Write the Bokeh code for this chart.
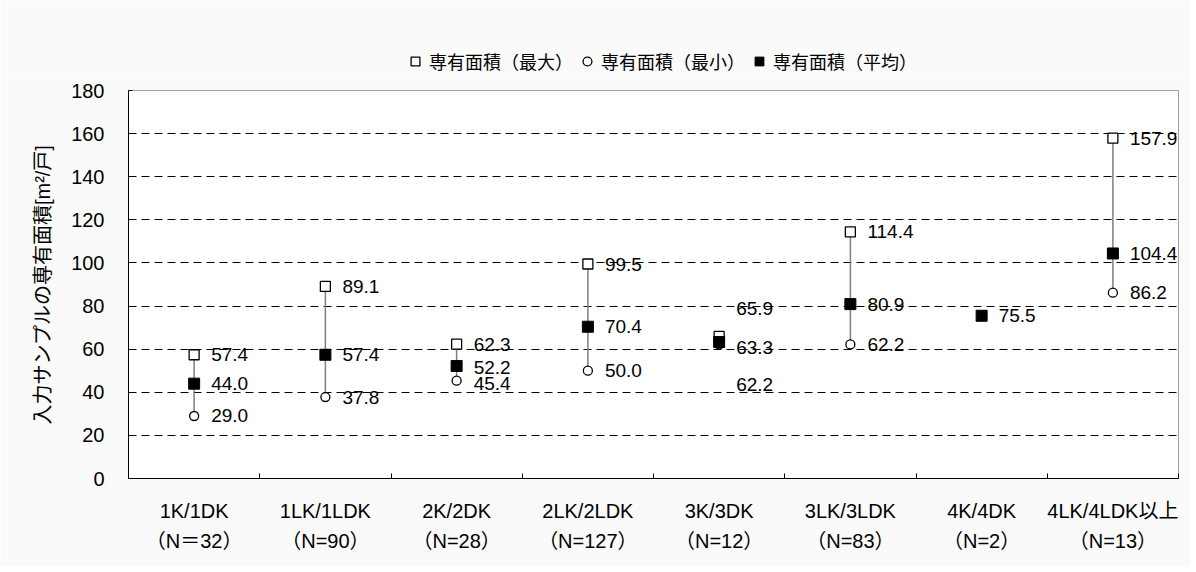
import math
from bokeh.plotting import figure
from bokeh.layouts import column
from bokeh.models import (ColumnDataSource, Range1d, FixedTicker, Legend, LegendItem)
from bokeh.core.properties import value
from bokeh.embed import file_html
from bokeh.resources import INLINE

categories = ["1K/1DK", "1LK/1LDK", "2K/2DK", "2LK/2LDK", "3K/3DK", "3LK/3LDK", "4K/4DK", "4LK/4LDK以上"]
sample_n = ["（N＝32）", "（N=90）", "（N=28）", "（N=127）", "（N=12）", "（N=83）", "（N=2）", "（N=13）"]
series_names = ["専有面積（最大）", "専有面積（最小）", "専有面積（平均）"]
area_max = [57.4, 89.1, 62.3, 99.5, 65.9, 114.4, float("nan"), 157.9]
area_min = [29.0, 37.8, 45.4, 50.0, 62.2, 62.2, float("nan"), 86.2]
area_mean = [44.0, 57.4, 52.2, 70.4, 63.3, 80.9, 75.5, 104.4]
y_ticks = [0, 20, 40, 60, 80, 100, 120, 140, 160, 180]

# label vertical nudges (px) to avoid overlaps, as in the original
nudge_max = [0, 0, 0, 0, -28, 0, 0, 0]
nudge_min = [0, 0, 3, 0, 40, 0, 0, 0]
nudge_mean = [0, 0, 2, 0, 5, 0, 0, 0]

FONT = "Liberation Sans, Arial, Noto Sans CJK JP"
BG = "#fafafa"

n = len(categories)
xs = [i + 0.5 for i in range(n)]

# ---------------- main plot ----------------
p = figure(frame_width=1050, frame_height=388, output_backend="svg", toolbar_location=None,
           x_range=Range1d(0, n), y_range=Range1d(0, 180),
           min_border_left=128, min_border_right=12, min_border_top=14, min_border_bottom=88)
p.background_fill_color = "white"
p.border_fill_color = BG
p.outline_line_color = "#a0a0a0"
p.outline_line_width = 1

xa = p.xaxis[0]
xa.ticker = FixedTicker(ticks=xs, minor_ticks=list(range(n + 1)))
xa.major_label_overrides = {x: f"{c}\n{s}" for x, c, s in zip(xs, categories, sample_n)}
xa.major_tick_in = 0
xa.major_tick_out = 0
xa.minor_tick_in = 5
xa.minor_tick_out = 0
xa.minor_tick_line_color = "black"
xa.axis_line_color = "black"
xa.major_label_text_font = FONT
xa.major_label_text_font_size = "20px"
xa.major_label_text_color = "black"
xa.major_label_text_line_height = 1.4
xa.major_label_standoff = 21

ya = p.yaxis[0]
ya.ticker = FixedTicker(ticks=y_ticks)
ya.major_tick_in = 4
ya.major_tick_out = 0
ya.minor_tick_line_color = None
ya.axis_line_color = "black"
ya.major_label_text_font = FONT
ya.major_label_text_font_size = "20px"
ya.major_label_text_color = "black"
ya.major_label_standoff = 24
ya.axis_label = "入力サンプルの専有面積[m²/戸]"
ya.axis_label_text_font = FONT
ya.axis_label_text_font_style = "normal"
ya.axis_label_text_font_size = "20px"
ya.axis_label_text_color = "black"
ya.axis_label_standoff = 14

p.xgrid.grid_line_color = None
p.ygrid.ticker = FixedTicker(ticks=y_ticks[1:])
p.ygrid.grid_line_color = "black"
p.ygrid.grid_line_dash = "8 5"
p.ygrid.grid_line_width = 1

rng = ColumnDataSource(dict(x=[x for x, a in zip(xs, area_max) if not math.isnan(a)],
                            y0=[b for a, b in zip(area_max, area_min) if not math.isnan(a)],
                            y1=[a for a in area_max if not math.isnan(a)]))
p.segment(x0="x", y0="y0", x1="x", y1="y1", source=rng, line_color="#808080", line_width=1.5)

MAX_STYLE = dict(marker="square", size=10, fill_color="white", line_color="black", line_width=1.3)
MIN_STYLE = dict(marker="circle", size=9, fill_color="white", line_color="black", line_width=1.3)
MEAN_STYLE = dict(marker="square", size=11, fill_color="black", line_color="black")

src = ColumnDataSource(dict(x=xs, mx=area_max, mn=area_min, me=area_mean))
p.scatter("x", "mx", source=src, **MAX_STYLE)
p.scatter("x", "mn", source=src, **MIN_STYLE)
p.scatter("x", "me", source=src, **MEAN_STYLE)

def labels(vals, nudges):
    keep = [i for i, v in enumerate(vals) if not math.isnan(v)]
    s = ColumnDataSource(dict(x=[xs[i] for i in keep], y=[vals[i] for i in keep],
                              t=[f"{vals[i]:.1f}" for i in keep],
                              dy=[nudges[i] for i in keep]))
    p.text("x", "y", text="t", source=s, x_offset=17, y_offset="dy",
           text_align="left", text_baseline="middle", text_font=value(FONT),
           text_font_size="19px", text_color="black")

labels(area_max, nudge_max)
labels(area_mean, nudge_mean)
labels(area_min, nudge_min)

# ---------------- legend strip on top ----------------
lg = figure(width=1190, height=76, output_backend="svg", toolbar_location=None,
            x_axis_type=None, y_axis_type=None, x_range=Range1d(0, 1), y_range=Range1d(0, 1),
            min_border=0)
lg.background_fill_color = BG
lg.border_fill_color = BG
lg.outline_line_color = None
lg.grid.grid_line_color = None
nan = float("nan")
hidden = ColumnDataSource(dict(x=[nan], y=[nan]))
g_max = lg.scatter("x", "y", source=hidden, **MAX_STYLE)
g_min = lg.scatter("x", "y", source=hidden, **MIN_STYLE)
g_mean = lg.scatter("x", "y", source=hidden, **MEAN_STYLE)

legend = Legend(items=[LegendItem(label=series_names[0], renderers=[g_max]),
                       LegendItem(label=series_names[1], renderers=[g_min]),
                       LegendItem(label=series_names[2], renderers=[g_mean])],
                orientation="horizontal", location=(276, 2))
legend.background_fill_alpha = 0
legend.border_line_color = None
legend.label_text_font = FONT
legend.label_text_font_size = "18px"
legend.label_text_color = "black"
legend.glyph_width = 22
legend.glyph_height = 22
legend.label_standoff = 3
legend.spacing = 3
legend.padding = 4
legend.margin = 0
lg.add_layout(legend, "center")

layout = column(lg, p, spacing=0)
open("out.html", "w").write(file_html(layout, INLINE))
